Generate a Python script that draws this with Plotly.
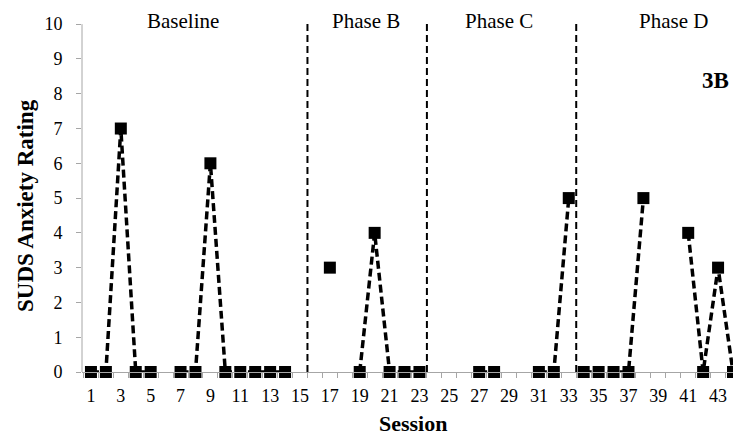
import plotly.graph_objects as go

sessions = list(range(1, 45))
suds = [0, 0, 7, 0, 0, None, 0, 0, 6, 0, 0, 0, 0, 0, None,
        None, 3, None, 0, 4, 0, 0, 0,
        None, None, None, 0, 0, None, None, 0, 0, 5,
        0, 0, 0, 0, 5, None, None, 4, 0, 3, 0]
phase_names = ["Baseline", "Phase B", "Phase C", "Phase D"]
phase_starts = [1, 16, 24, 34]
phase_ends = [15, 23, 33, 44]
phase_label_x = [7.16, 19.42, 28.3, 40.03]
phase_lines = [15.5, 23.5, 33.5]
y_ticks = list(range(0, 11))
x_ticks = list(range(1, 44, 2))

FONT = "Times New Roman, Liberation Serif, serif"
GRAY = "#a6a6a6"

fig = go.Figure()
for s, e in zip(phase_starts, phase_ends):
    xs = [x for x in sessions if s <= x <= e]
    ys = [suds[x - 1] for x in xs]
    fig.add_trace(go.Scatter(
        x=xs, y=ys, mode="lines+markers", cliponaxis=False,
        line=dict(color="black", width=3.5, dash="8px,4px"),
        marker=dict(symbol="square", size=12, color="black"),
        connectgaps=False, showlegend=False, hoverinfo="skip"))

shapes = []
for px in phase_lines:
    shapes.append(dict(type="line", xref="x", yref="y", x0=px, x1=px, y0=0, y1=10.12,
                       line=dict(color="black", width=2, dash="7px,4px")))
shapes.append(dict(type="line", xref="paper", yref="y", x0=0, x1=0, y0=0, y1=10,
                   line=dict(color=GRAY, width=1)))

PW, PH = 651, 441 - 89


def px2paper(px, py):
    return (px - 82) / PW, (441 - 69 - py) / PH


annotations = []
for name, lx in zip(phase_names, phase_label_x):
    annotations.append(dict(x=lx, y=10.1, xref="x", yref="y", text=name, showarrow=False,
                            font=dict(family=FONT, size=21, color="black"),
                            xanchor="center", yanchor="middle"))
annotations.append(dict(x=42.8, y=8.39, xref="x", yref="y", text="<b>3B</b>", showarrow=False,
                        font=dict(family=FONT, size=23, color="black"),
                        xanchor="center", yanchor="middle"))
tx, ty = px2paper(26, 206)
annotations.append(dict(x=tx, y=ty, xref="paper", yref="paper", text="<b>SUDS Anxiety Rating</b>",
                        showarrow=False, textangle=-90,
                        font=dict(family=FONT, size=23, color="black"),
                        xanchor="center", yanchor="middle"))
sx, sy = px2paper(413, 423)
annotations.append(dict(x=sx, y=sy, xref="paper", yref="paper", text="<b>Session</b>",
                        showarrow=False, font=dict(family=FONT, size=22, color="black"),
                        xanchor="center", yanchor="middle"))

fig.update_layout(
    width=733, height=441,
    margin=dict(l=82, r=0, t=20, b=69),
    paper_bgcolor="white", plot_bgcolor="white",
    shapes=shapes, annotations=annotations,
    font=dict(family=FONT, color="black"),
    xaxis=dict(range=[0.4, 44.0], tickmode="array", tickvals=x_ticks,
               ticktext=[str(v) for v in x_ticks], ticks="", ticklabelstandoff=7,
               showline=True, linecolor=GRAY, linewidth=1, showgrid=False, zeroline=False,
               tickfont=dict(family=FONT, size=18, color="black"),
               minor=dict(tickmode="array", tickvals=[v + 0.5 for v in range(0, 44)],
                          ticks="outside", ticklen=5, tickcolor=GRAY, tickwidth=1, showgrid=False)),
    yaxis=dict(range=[0, 10.12], tickmode="array", tickvals=y_ticks, ticks="outside",
               ticklen=5, tickcolor=GRAY, showline=False, showgrid=False, zeroline=False,
               ticklabelstandoff=10,
               tickfont=dict(family=FONT, size=18, color="black")),
)

fig.write_html("out.html")
